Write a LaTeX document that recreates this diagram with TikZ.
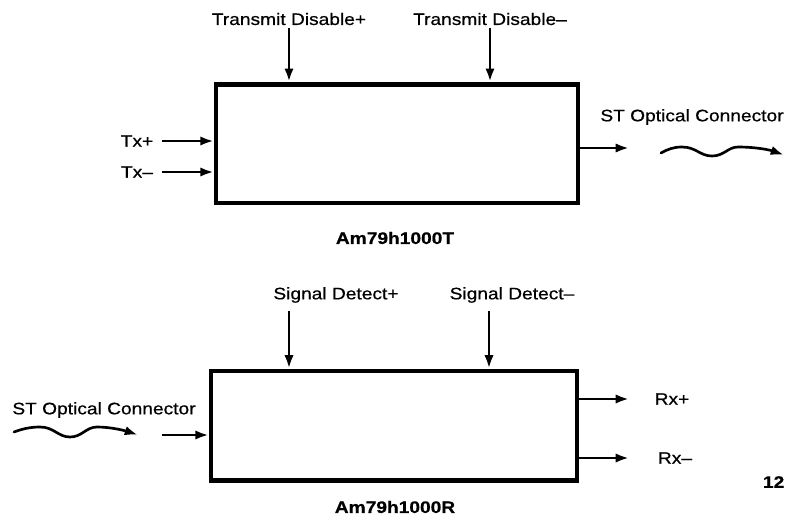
\documentclass[tikz,border=0pt]{standalone}
\usepackage{fontspec}
\setmainfont{Liberation Sans}[FakeStretch=1.15, FakeBold=0.6]
\usetikzlibrary{arrows.meta}
\begin{document}
\begin{tikzpicture}[x=0.75pt, y=-0.75pt, font=\fontsize{12.5}{14}\selectfont,
  block/.style = {draw, line width=3.5pt, inner sep=0pt},
  sig/.style = {line width=2pt, -{Latex[length=10pt,width=7pt]}},
  wave/.style = {sig, line cap=round},
  lbl/.style = {inner sep=2pt},
  title/.style = {font=\fontsize{12.5}{14}\selectfont\bfseries}]
\useasboundingbox (0,0) rectangle (789,518);
% transmitter
\node[block, minimum width=271.5pt, minimum height=89pt] (tx) at (397,143.5) {};
\node[lbl] (tdp) at (289,19) {Transmit Disable+};
\node[lbl] (tdm) at (490,19) {Transmit Disable–};
\node[lbl] (txp) at (137,141) {Tx+};
\node[lbl] (txm) at (137,172) {Tx–};
\node[lbl] (stout) at (692,117) {ST Optical Connector};
\node[title] (txname) at (395,238) {Am79h1000T};
\coordinate (txpin) at (162,141);
\coordinate (txmin) at (162,172);
\coordinate (txout) at (629,148);
\draw[sig] (tdp.south) -- (tdp.south |- tx.north);
\draw[sig] (tdm.south) -- (tdm.south |- tx.north);
\draw[sig] (txpin) -- (txpin -| tx.west);
\draw[sig] (txmin) -- (txmin -| tx.west);
\draw[sig] (txout -| tx.east) -- (txout);
\draw[wave] (661,153) .. controls (668,149) and (674,147) .. (682,147)
  .. controls (696,147) and (700,156) .. (712,156)
  .. controls (724,156) and (728,147) .. (738,147)
  .. controls (756,147) and (770,150) .. (784,155);
% receiver
\node[block, minimum width=274.5pt, minimum height=82pt] (rx) at (394,425.5) {};
\node[lbl] (sdp) at (336,295) {Signal Detect+};
\node[lbl] (sdm) at (512,295) {Signal Detect–};
\node[lbl] (stin) at (104,410) {ST Optical Connector};
\node[lbl] (rxp) at (672,399) {Rx+};
\node[lbl] (rxm) at (675,458) {Rx–};
\node[title] (rxname) at (395,507) {Am79h1000R};
\node[title, anchor=east] (pagenum) at (789,482) {12};
\coordinate (sdpin) at (289,311);
\coordinate (sdmin) at (489,311);
\coordinate (rxin) at (162,435);
\coordinate (rxpout) at (629,399);
\coordinate (rxmout) at (629,458);
\draw[sig] (sdpin) -- (sdpin |- rx.north);
\draw[sig] (sdmin) -- (sdmin |- rx.north);
\draw[sig] (rxin) -- (rxin -| rx.west);
\draw[sig] (rxpout -| rx.east) -- (rxpout);
\draw[sig] (rxmout -| rx.east) -- (rxmout);
\draw[wave] (14,432) .. controls (22,429) and (30,427) .. (40,427)
  .. controls (54,427) and (58,437) .. (70,437)
  .. controls (82,437) and (86,427) .. (97,427)
  .. controls (112,427) and (126,431) .. (138,435);
\end{tikzpicture}
\end{document}
